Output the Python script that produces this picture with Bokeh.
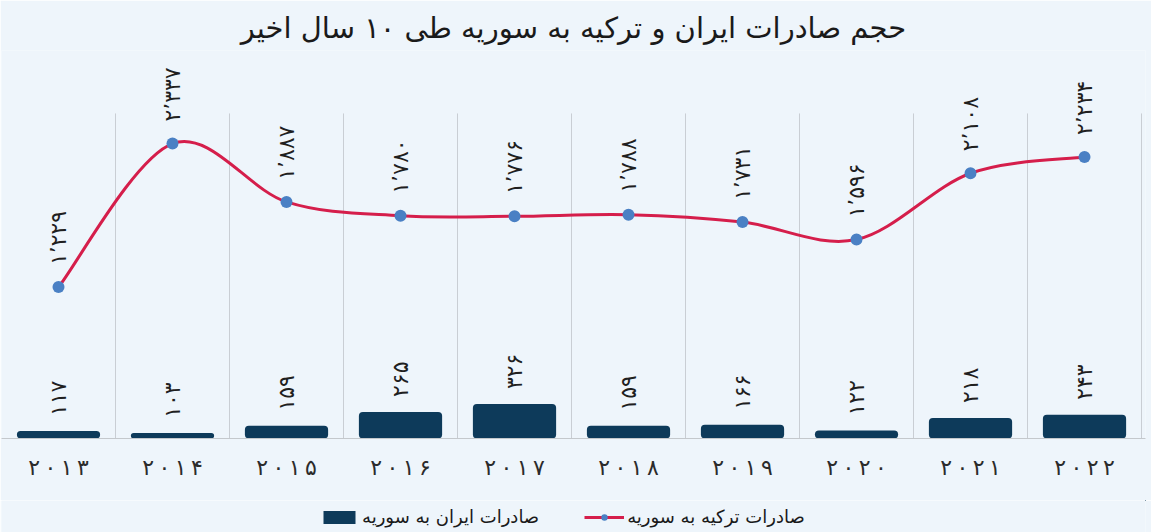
import math
from bokeh.plotting import figure
from bokeh.layouts import column
from bokeh.models import (Range1d, FixedTicker, CustomJSTickFormatter, Legend,
                          LegendItem)
from bokeh.core.properties import value
from bokeh.embed import file_html
from bokeh.resources import INLINE

# ---------------- data ----------------
years = ["۲۰۱۳", "۲۰۱۴", "۲۰۱۵", "۲۰۱۶", "۲۰۱۷",
         "۲۰۱۸", "۲۰۱۹", "۲۰۲۰", "۲۰۲۱", "۲۰۲۲"]
turkey_exports = [1229, 2337, 1887, 1780, 1776, 1788, 1731, 1596, 2108, 2234]
iran_exports = [117, 103, 159, 265, 326, 159, 166, 122, 218, 243]
title_text = "حجم صادرات ایران و ترکیه به سوریه طی ۱۰ سال اخیر"
iran_label = "صادرات ایران به سوریه"
turkey_label = "صادرات ترکیه به سوریه"

# ---------------- styles ----------------
BG = "#EEF5FB"
NAVY = "#0D3A5A"
RED = "#D51E4B"
BLUE = "#4A80C4"
GRID = "#C9CED4"
FONT = "DejaVu Sans"

FA = str.maketrans("0123456789", "۰۱۲۳۴۵۶۷۸۹")


def fa_num(n):
    return f"{n:,}".replace(",", "٬").translate(FA)


n = len(years)
xc = [i + 0.5 for i in range(n)]
tick_labels = ["\u2009".join(list(y)) for y in years]

p = figure(width=1151, height=500,
           x_range=Range1d(0, 10.035), y_range=Range1d(60, 3056),
           output_backend="svg", toolbar_location=None,
           y_axis_location=None,
           min_border_left=1, min_border_right=6,
           min_border_top=50, min_border_bottom=62,
           background_fill_color=BG, border_fill_color=BG,
           outline_line_color=None)

p.xgrid.visible = False
p.ygrid.visible = False

# title
p.title.text = title_text
p.title.align = "center"
p.title.text_font = FONT
p.title.text_font_size = "29px"
p.title.text_font_style = "normal"
p.title.text_color = "#1a1a1a"
p.title.standoff = 11

# vertical category separators
bounds = list(range(1, n + 1))
p.segment(x0=bounds, x1=bounds, y0=[60] * n, y1=[2570] * n,
          line_color=GRID, line_width=1)

# bars
bars = p.vbar(x=xc, top=iran_exports, bottom=0, width=0.73,
              fill_color=NAVY, line_color=None, border_radius=4)
p.text(x=xc, y=iran_exports, text=[fa_num(v) for v in iran_exports],
       angle=math.pi / 2, text_align="left", text_baseline="middle",
       y_offset=-15, text_font=value(FONT), text_font_size="22px",
       text_color="#1f1f1f")

# smooth line (Catmull-Rom as Bezier segments through the data points)
pts = list(zip(xc, turkey_exports))
bx0, by0, bx1, by1, cx0, cy0, cx1, cy1 = ([] for _ in range(8))
for i in range(n - 1):
    pa = pts[i - 1] if i > 0 else pts[i]
    pb = pts[i]
    pc = pts[i + 1]
    pd = pts[i + 2] if i + 2 < n else pts[i + 1]
    bx0.append(pb[0]); by0.append(pb[1])
    bx1.append(pc[0]); by1.append(pc[1])
    cx0.append(pb[0] + (pc[0] - pa[0]) / 6); cy0.append(pb[1] + (pc[1] - pa[1]) / 6)
    cx1.append(pc[0] - (pd[0] - pb[0]) / 6); cy1.append(pc[1] - (pd[1] - pb[1]) / 6)

curve = p.bezier(x0=bx0, y0=by0, x1=bx1, y1=by1, cx0=cx0, cy0=cy0,
                 cx1=cx1, cy1=cy1, line_color=RED, line_width=3)
dots = p.scatter(x=xc, y=turkey_exports, size=12, marker="circle",
                 fill_color=BLUE, line_color=None)
p.text(x=xc, y=turkey_exports, text=[fa_num(v) for v in turkey_exports],
       angle=math.pi / 2, text_align="left", text_baseline="middle",
       y_offset=-22, text_font=value(FONT), text_font_size="22px",
       text_color="#1f1f1f")

# x axis
ax = p.xaxis[0]
ax.ticker = FixedTicker(ticks=xc)
ax.formatter = CustomJSTickFormatter(args=dict(labels=tick_labels),
                                     code="return labels[Math.floor(tick)];")
ax.major_label_text_font = FONT
ax.major_label_text_font_size = "22px"
ax.major_label_text_color = "#2b2b2b"
ax.major_label_standoff = 10
ax.axis_line_color = "#C4C8CC"
ax.major_tick_line_color = None
ax.minor_tick_line_color = None

# legend strip (a second small figure below the chart); its ranges lie far
# outside the data, so only the legend swatches show
lg = figure(width=1151, height=32, x_range=Range1d(-500, -499),
            y_range=Range1d(-50000, -49999),
            output_backend="svg", toolbar_location=None,
            x_axis_location=None, y_axis_location=None,
            min_border=0, background_fill_color=BG, border_fill_color=BG,
            outline_line_color=None)
lg.xgrid.visible = False
lg.ygrid.visible = False
k_bar = lg.vbar(x=xc, top=iran_exports, bottom=0, width=0.73,
                fill_color=NAVY, line_color=None)
k_line = lg.line(x=xc, y=turkey_exports, line_color=RED, line_width=3)
k_dot = lg.scatter(x=xc, y=turkey_exports, size=12, marker="circle",
                   fill_color=BLUE, line_color=None)
legend = Legend(items=[LegendItem(label=iran_label, renderers=[k_bar]),
                       LegendItem(label=turkey_label, renderers=[k_line, k_dot])],
                orientation="horizontal", location=(318, 5),
                glyph_width=40, glyph_height=16, label_standoff=3,
                spacing=45, background_fill_alpha=0, border_line_color=None,
                label_text_font=FONT, label_text_font_size="18px",
                label_text_color="#1a1a1a", margin=0, padding=4)
lg.add_layout(legend, "center")

layout = column(p, lg, spacing=0)
open("out.html", "w").write(file_html(layout, INLINE))
